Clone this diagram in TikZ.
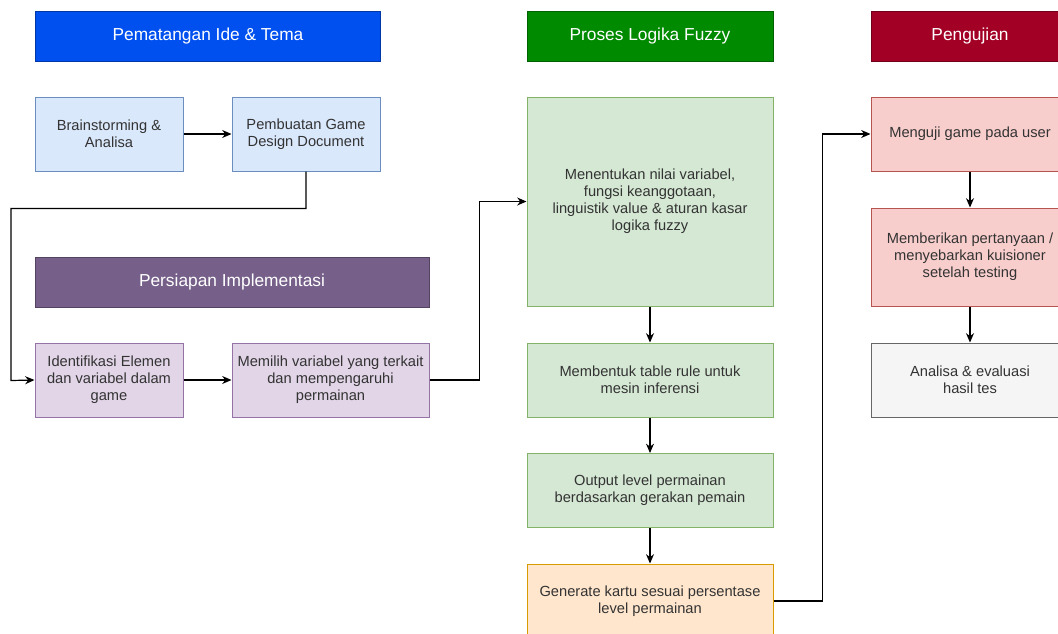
\documentclass[tikz,border=0pt]{standalone}
\usepackage{fontspec}
\setmainfont{Liberation Sans}
\usetikzlibrary{arrows.meta}
\definecolor{hdrblue}{HTML}{0050EF}
\definecolor{hdrgreen}{HTML}{008A00}
\definecolor{hdrred}{HTML}{A20025}
\definecolor{hdrpurple}{HTML}{76608A}
\definecolor{txtgray}{HTML}{333333}
\definecolor{blueF}{HTML}{DAE8FC}\definecolor{blueD}{HTML}{6C8EBF}
\definecolor{purpleF}{HTML}{E1D5E7}\definecolor{purpleD}{HTML}{9673A6}
\definecolor{greenF}{HTML}{D5E8D4}\definecolor{greenD}{HTML}{82B366}
\definecolor{orangeF}{HTML}{FFE6CC}\definecolor{orangeD}{HTML}{D79B00}
\definecolor{redF}{HTML}{F8CECC}\definecolor{redD}{HTML}{B85450}
\definecolor{grayF}{HTML}{F5F5F5}\definecolor{grayD}{HTML}{666666}
\begin{document}
\begin{tikzpicture}[x=0.75pt,y=-0.75pt,
    header/.style={draw=#1!70!black,fill=#1,text=white,minimum width=184.5pt,minimum height=37.5pt,
      font=\fontsize{13}{15}\selectfont},
    box/.style={draw=#1D,fill=#1F,text=txtgray,minimum width=111pt,minimum height=55.5pt,
      align=center,font=\fontsize{11}{12.75}\selectfont,line width=0.75pt},
    arr/.style={-{Stealth[length=7pt,width=6pt]},line width=0.9pt}]
    \clip (0,0) rectangle (1058,633);
    \fill[white] (0,0) rectangle (1058,633);
    % kolom 1
    \node[header=hdrblue,minimum width=258.75pt] (hdrIde) at (208,36) {Pematangan Ide \& Tema};
    \node[box=blue] (brain) at (109,134) {Brainstorming \&\\Analisa};
    \node[box=blue] (gdd) at (306,134) {Pembuatan Game\\Design Document};
    \node[header=hdrpurple,minimum width=295.5pt] (hdrPrep) at (232,282) {Persiapan Implementasi};
    \node[box=purple] (ident) at (109,380) {Identifikasi Elemen\\dan variabel dalam\\game};
    \node[box=purple,minimum width=147.75pt] (pilih) at (330.5,380) {Memilih variabel yang terkait\\dan mempengaruhi\\permainan};
    % kolom 2
    \node[header=hdrgreen] (hdrFuzzy) at (650,36) {Proses Logika Fuzzy};
    \node[box=green,minimum width=184.5pt,minimum height=156.75pt] (tentu) at (650,201.5)
      {Menentukan nilai variabel,\\fungsi keanggotaan,\\linguistik value \& aturan kasar\\logika fuzzy};
    \node[box=green,minimum width=184.5pt] (bentuk) at (650,380) {Membentuk table rule untuk\\mesin inferensi};
    \node[box=green,minimum width=184.5pt] (output) at (650,490.5) {Output level permainan\\berdasarkan gerakan pemain};
    \node[box=orange,minimum width=184.5pt] (gen) at (650,601) {Generate kartu sesuai persentase\\level permainan};
    % kolom 3
    \node[header=hdrred,minimum width=148.5pt] (hdrUji) at (970,36) {Pengujian};
    \node[box=red,minimum width=148.5pt] (uji) at (970,134) {Menguji game pada user};
    \node[box=red,minimum width=148.5pt,minimum height=73.5pt] (beri) at (970,257) {Memberikan pertanyaan /\\menyebarkan kuisioner\\setelah testing};
    \node[box=gray,minimum width=148.5pt] (eval) at (970,380) {Analisa \& evaluasi\\hasil tes};
    % panah
    \draw[arr] (brain) -- (gdd);
    \draw[arr] (gdd.south) -- ++(0,37) -| ++(-295,172) -- (ident.west);
    \draw[arr] (ident) -- (pilih);
    \draw[arr] (pilih.east) -- ++(50,0) |- (tentu.west);
    \draw[arr] (tentu) -- (bentuk);
    \draw[arr] (bentuk) -- (output);
    \draw[arr] (output) -- (gen);
    \draw[arr] (gen.east) -- ++(49,0) |- (uji.west);
    \draw[arr] (uji) -- (beri);
    \draw[arr] (beri) -- (eval);
\end{tikzpicture}
\end{document}
